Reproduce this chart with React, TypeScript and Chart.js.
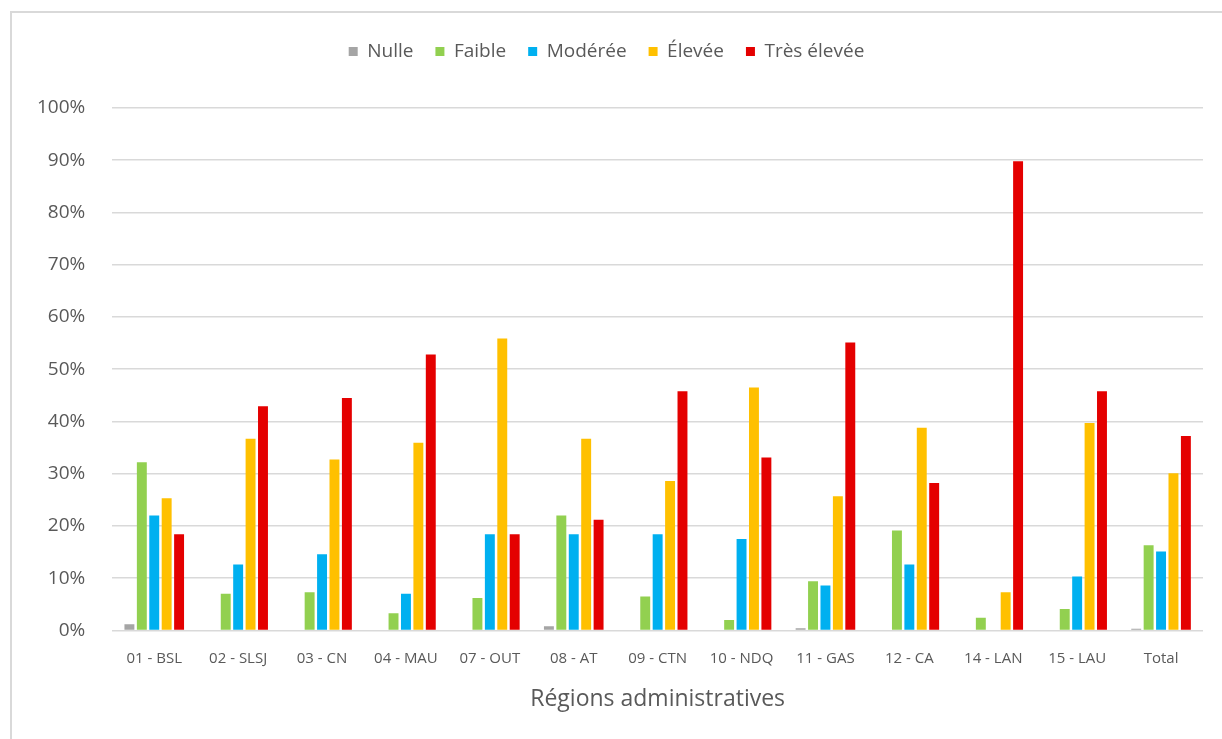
import React, { useEffect, useRef } from "react";
import { Chart, registerables } from "chart.js";

Chart.register(...registerables);

const categories = ["01 - BSL", "02 - SLSJ", "03 - CN", "04 - MAU", "07 - OUT", "08 - AT", "09 - CTN", "10 - NDQ", "11 - GAS", "12 - CA", "14 - LAN", "15 - LAU", "Total"];
const nulle = [1.2, 0, 0, 0, 0, 0.8, 0, 0, 0.4, 0, 0, 0, 0.3];
const faible = [32.2, 7.0, 7.3, 3.3, 6.2, 22.0, 6.5, 2.0, 9.4, 19.1, 2.4, 4.1, 16.3];
const moderee = [22.0, 12.6, 14.6, 7.0, 18.4, 18.4, 18.4, 17.5, 8.6, 12.6, 0, 10.3, 15.1];
const elevee = [25.3, 36.7, 32.7, 35.9, 55.9, 36.7, 28.6, 46.5, 25.7, 38.8, 7.3, 39.7, 30.1];
const tresElevee = [18.4, 42.9, 44.5, 52.8, 18.4, 21.2, 45.8, 33.1, 55.1, 28.2, 89.8, 45.8, 37.2];
const seriesNames = ["Nulle", "Faible", "Modérée", "Élevée", "Très élevée"];
const colors = ["#A5A5A5", "#92D050", "#00B0F0", "#FFC000", "#E40000"];
const yTicks = [0, 10, 20, 30, 40, 50, 60, 70, 80, 90, 100];

const FONT = "'Open Sans', sans-serif";
const TEXT = "#595959";

const legendMargin = {
  id: "legendMargin",
  beforeInit(chart: any) {
    const orig = chart.legend.fit;
    chart.legend.fit = function () {
      orig.bind(chart.legend)();
      this.height += 37;
    };
  },
};

export default function App() {
  const ref = useRef<HTMLCanvasElement>(null);
  useEffect(() => {
    if (!ref.current) return;
    const values = [nulle, faible, moderee, elevee, tresElevee];
    const chart = new Chart(ref.current, {
      type: "bar",
      data: {
        labels: categories,
        datasets: values.map((v, i) => ({
          label: seriesNames[i],
          data: v,
          backgroundColor: colors[i],
          borderWidth: 0,
          categoryPercentage: 0.74,
          barPercentage: 0.8,
        })),
      },
      plugins: [legendMargin],
      options: {
        responsive: false,
        animation: false,
        layout: { padding: { left: 10, right: 19, top: 20, bottom: 26 } },
        plugins: {
          tooltip: { enabled: false },
          legend: {
            position: "top",
            labels: {
              boxWidth: 9,
              boxHeight: 9,
              padding: 22,
              color: TEXT,
              font: { family: FONT, size: 19 },
            },
          },
        },
        scales: {
          x: {
            grid: { display: false },
            border: { display: false },
            ticks: {
              color: TEXT,
              font: { family: FONT, size: 15 },
              padding: 11,
              maxRotation: 0,
              autoSkip: false,
            },
            title: {
              display: true,
              text: "Régions administratives",
              color: TEXT,
              font: { family: FONT, size: 23 },
              padding: { top: 7, bottom: 0 },
            },
          },
          y: {
            min: 0,
            max: 100,
            afterBuildTicks: (axis: any) => {
              axis.ticks = yTicks.map((v) => ({ value: v }));
            },
            grid: { color: "#D9D9D9", lineWidth: 1.5, drawTicks: false },
            border: { display: false },
            ticks: {
              color: TEXT,
              font: { family: FONT, size: 19 },
              padding: 27,
              callback: (v: any) => v + "%",
            },
          },
        },
      },
    });
    return () => chart.destroy();
  }, []);
  return (
    <div>
      <div
        style={{
          position: "fixed",
          left: 10,
          top: 11,
          right: 0,
          bottom: 0,
          borderTop: "2px solid #D9D9D9",
          borderLeft: "2px solid #D9D9D9",
          background: "#fff",
        }}
      />
      <canvas
        ref={ref}
        width={1222}
        height={739}
        style={{ position: "fixed", left: 0, top: 0, width: 1222, height: 739 }}
      />
    </div>
  );
}
